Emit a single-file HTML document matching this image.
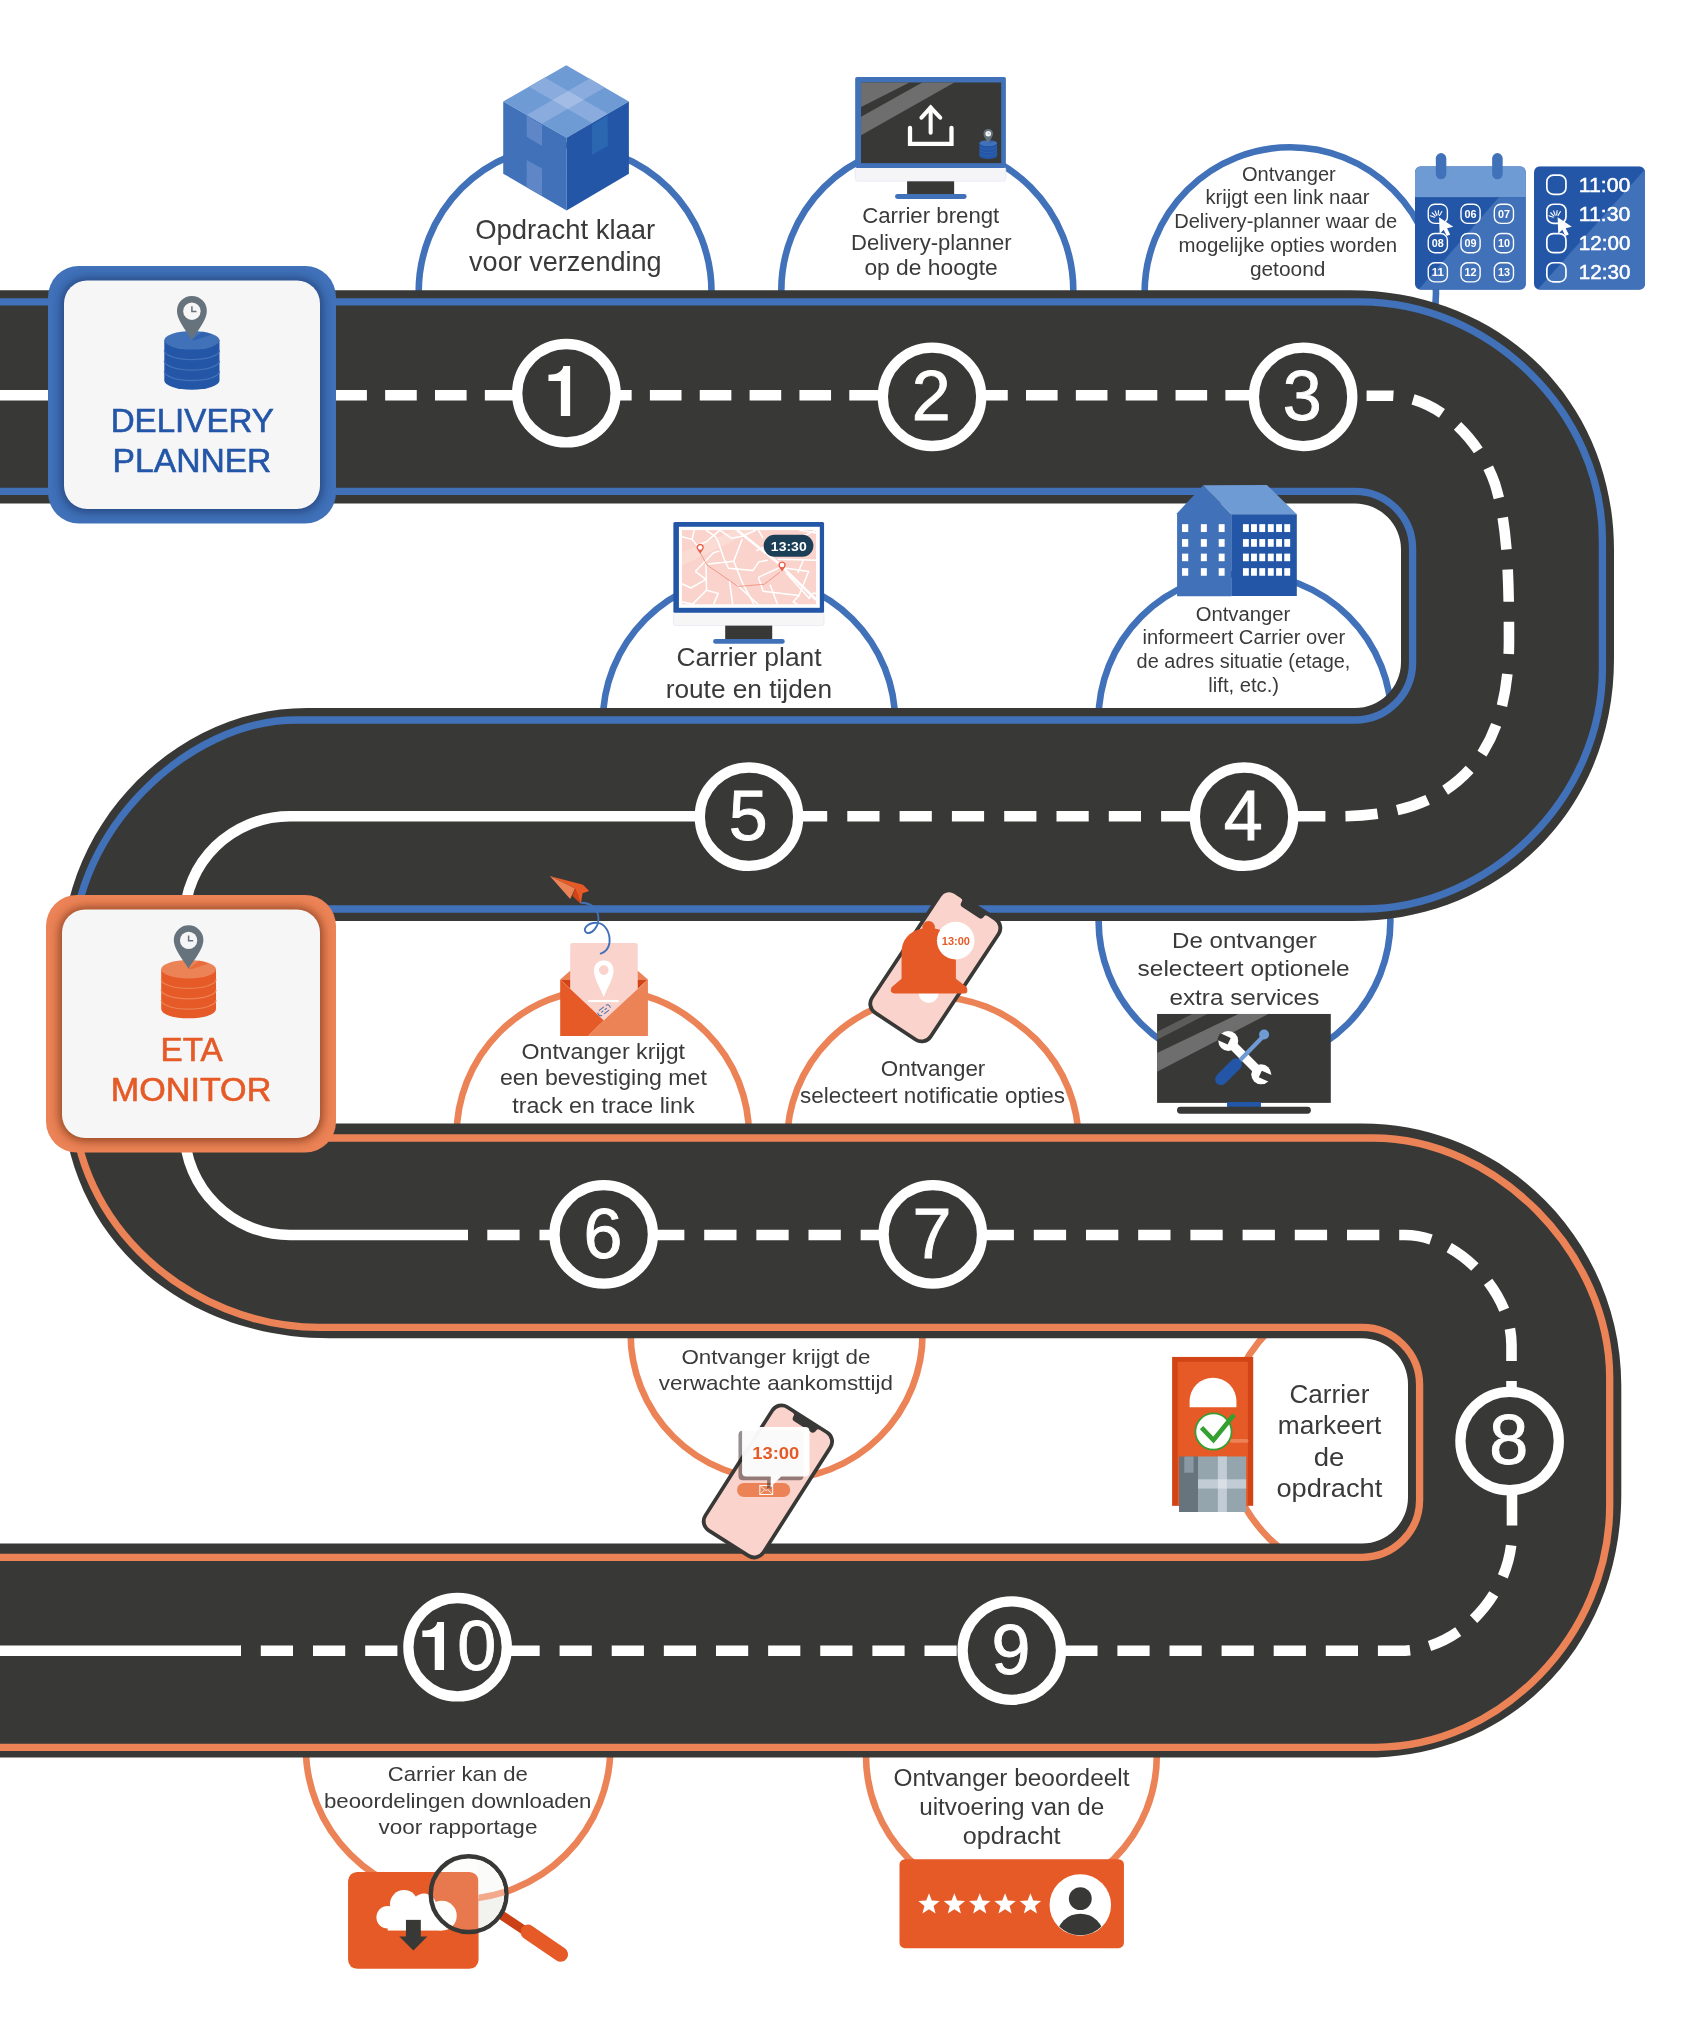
<!DOCTYPE html>
<html><head><meta charset="utf-8"><title>Delivery Planner / ETA Monitor</title>
<style>
html,body{margin:0;padding:0;background:#fff;}
svg{display:block;will-change:transform;font-family:"Liberation Sans",sans-serif;}
</style></head><body>
<svg width="1684" height="2038" viewBox="0 0 1684 2038">
<rect width="1684" height="2038" fill="#fff"/>
<circle cx="1011.4" cy="1755.8" r="145.4" fill="#fff" stroke="#EC8357" stroke-width="6.6"/>
<circle cx="458.1" cy="1747" r="152.3" fill="#fff" stroke="#EC8357" stroke-width="6.6"/>
<circle cx="1372.4" cy="1434.5" r="146.5" fill="#fff" stroke="#EC8357" stroke-width="6.6"/>
<circle cx="776.6" cy="1333.5" r="146" fill="#fff" stroke="#EC8357" stroke-width="6.6"/>
<circle cx="932.9" cy="1142.5" r="145.8" fill="#fff" stroke="#EC8357" stroke-width="6.6"/>
<circle cx="602.8" cy="1135.6" r="146.2" fill="#fff" stroke="#EC8357" stroke-width="6.6"/>
<circle cx="1244.5" cy="920.8" r="145.9" fill="#fff" stroke="#4071B9" stroke-width="6.6"/>
<circle cx="1245" cy="720" r="146.5" fill="#fff" stroke="#4071B9" stroke-width="6.6"/>
<circle cx="749" cy="722.4" r="146.2" fill="#fff" stroke="#4071B9" stroke-width="6.6"/>
<circle cx="1290.3" cy="293" r="145.7" fill="#fff" stroke="#4071B9" stroke-width="6.6"/>
<circle cx="927.3" cy="290.4" r="146" fill="#fff" stroke="#4071B9" stroke-width="6.6"/>
<circle cx="565.1" cy="291.7" r="146.4" fill="#fff" stroke="#4071B9" stroke-width="6.6"/>
<path d="M-20,290.2 H1350.0 C1501.27,290.20 1614.00,401.22 1614.00,550.20 V659.0 C1614.00,809.13 1502.13,921.00 1352.00,921.00 H261 A46,46 0 0 0 215,967 V1077.6 A46,46 0 0 0 261,1123.6 H1362.3 C1504.75,1123.60 1621.30,1241.50 1621.30,1385.60 V1493.6 C1621.30,1644.87 1511.99,1757.60 1365.30,1757.60 H-20 V1543.4 H1362 A46,46 0 0 0 1408,1497.4 V1384.3 A46,46 0 0 0 1362,1338.3 H330.0 C176.44,1338.30 62.00,1231.55 62.00,1088.30 V958.0 C62.00,823.75 175.44,708.00 307.00,708.00 H1355 A46,46 0 0 0 1401,662 V549.5 A46,46 0 0 0 1355,503.5 H-20Z" fill="#383837"/>
<defs><clipPath id="cpB"><rect x="-30" y="0" width="1750" height="1020"/></clipPath><clipPath id="cpO"><rect x="-30" y="1020" width="1750" height="1100"/></clipPath></defs>
<path d="M-20,301.8 H1360.44 C1489.89,301.80 1602.40,412.45 1602.40,539.76 V669.04 C1602.40,797.42 1490.82,909.00 1362.44,909.00 H261.0 A57.6,57.6 0 0 0 203.4,966.6 V1080.4 A57.6,57.6 0 0 0 261.0,1138 H1372.74 C1495.96,1138.00 1609.70,1253.18 1609.70,1377.96 V1505.34 C1609.70,1634.79 1500.91,1747.30 1375.74,1747.30 H-20 V1557.3 H1362.0 A57.6,57.6 0 0 0 1419.6,1499.7 V1385.0 A57.6,57.6 0 0 0 1362.0,1327.4 H319.56 C187.97,1327.40 73.60,1221.40 73.60,1099.44 V947.96 C73.60,833.98 185.08,720.00 296.56,720.00 H1355.0 A57.6,57.6 0 0 0 1412.6,662.4 V548.9 A57.6,57.6 0 0 0 1355.0,491.3 H-20Z" fill="none" stroke="#4071B9" stroke-width="7.3" clip-path="url(#cpB)"/>
<path d="M-20,301.8 H1360.44 C1489.89,301.80 1602.40,412.45 1602.40,539.76 V669.04 C1602.40,797.42 1490.82,909.00 1362.44,909.00 H261.0 A57.6,57.6 0 0 0 203.4,966.6 V1080.4 A57.6,57.6 0 0 0 261.0,1138 H1372.74 C1495.96,1138.00 1609.70,1253.18 1609.70,1377.96 V1505.34 C1609.70,1634.79 1500.91,1747.30 1375.74,1747.30 H-20 V1557.3 H1362.0 A57.6,57.6 0 0 0 1419.6,1499.7 V1385.0 A57.6,57.6 0 0 0 1362.0,1327.4 H319.56 C187.97,1327.40 73.60,1221.40 73.60,1099.44 V947.96 C73.60,833.98 185.08,720.00 296.56,720.00 H1355.0 A57.6,57.6 0 0 0 1412.6,662.4 V548.9 A57.6,57.6 0 0 0 1355.0,491.3 H-20Z" fill="none" stroke="#EC8357" stroke-width="7.3" clip-path="url(#cpO)"/>
<path d="M-5,395.2H60" stroke="#ffffff" stroke-width="10.6" fill="none"/>
<path d="M334,395.2H520" stroke="#ffffff" stroke-width="10.6" fill="none" stroke-dasharray="31.6 18.25" stroke-dashoffset="48.55"/>
<path d="M610,395.2H880" stroke="#ffffff" stroke-width="10.6" fill="none" stroke-dasharray="31.6 18.25" stroke-dashoffset="9.95"/>
<path d="M980,395.2H1250" stroke="#ffffff" stroke-width="10.6" fill="none" stroke-dasharray="31.6 18.25" stroke-dashoffset="3.85"/>
<path d="M1293.2,816.3 H1340 C1400,816.3 1452,800 1483,752 C1503,720 1509,680 1509,640 C1509,560 1506,520 1495,484 C1480,440 1440,398.2 1392,395.7 H1366.6" stroke="#ffffff" stroke-width="10.6" fill="none" stroke-dasharray="32.2 20"/>
<path d="M795,816.3H1195" stroke="#ffffff" stroke-width="10.6" fill="none" stroke-dasharray="32.2 20.099999999999994" stroke-dashoffset="0.00"/>
<path d="M748,816.3 H290 C232,816.3 184.5,862 184.5,920 V1130 C184.5,1188 232,1235.0 290,1235.0 H468" stroke="#ffffff" stroke-width="10.6" fill="none"/>
<path d="M485,1235.0H560" stroke="#ffffff" stroke-width="10.6" fill="none" stroke-dasharray="32.3 19.900000000000006" stroke-dashoffset="49.90"/>
<path d="M650,1235.0H890" stroke="#ffffff" stroke-width="10.6" fill="none" stroke-dasharray="32.3 19.85" stroke-dashoffset="50.10"/>
<path d="M981.6,1235.0 H1405 C1457.2,1235.0 1511.5,1291.3 1511.5,1345 V1390" stroke="#ffffff" stroke-width="10.6" fill="none" stroke-dasharray="32.3 19.9"/>
<path d="M1065.6,1650.8 H1400 C1459.4,1650.8 1512,1593.2 1512,1532 V1490" stroke="#ffffff" stroke-width="10.6" fill="none" stroke-dasharray="32.2 19.9" stroke-dashoffset="0.3"/>
<path d="M505,1650.8H960" stroke="#ffffff" stroke-width="10.6" fill="none" stroke-dasharray="32.2 19.93" stroke-dashoffset="49.66"/>
<path d="M240,1650.8H410" stroke="#ffffff" stroke-width="10.6" fill="none" stroke-dasharray="32.2 20.0" stroke-dashoffset="31.40"/>
<path d="M-5,1650.8H241" stroke="#ffffff" stroke-width="10.6" fill="none"/>
<circle cx="566.4" cy="393.2" r="49.2" fill="#383837" stroke="#ffffff" stroke-width="10.3"/>
<path d="M570.15,366.09999999999997 V416.09999999999997 H560.85 V381.09999999999997 H548.4499999999999 V374.79999999999995 C555.85,374.79999999999995 562.35,372.49999999999994 563.35,366.09999999999997Z" fill="#ffffff"/>
<circle cx="932.05" cy="396.8" r="49.2" fill="#383837" stroke="#ffffff" stroke-width="10.3"/>
<text x="931.25" y="420.2" font-size="70" fill="#ffffff" stroke="#ffffff" stroke-width="0.9" text-anchor="middle">2</text>
<circle cx="1303.1" cy="396.9" r="49.2" fill="#383837" stroke="#ffffff" stroke-width="10.3"/>
<text x="1302.3" y="420.29999999999995" font-size="70" fill="#ffffff" stroke="#ffffff" stroke-width="0.9" text-anchor="middle">3</text>
<circle cx="1244.05" cy="816.7" r="49.2" fill="#383837" stroke="#ffffff" stroke-width="10.3"/>
<text x="1243.25" y="840.1" font-size="70" fill="#ffffff" stroke="#ffffff" stroke-width="0.9" text-anchor="middle">4</text>
<circle cx="749" cy="816.7" r="49.2" fill="#383837" stroke="#ffffff" stroke-width="10.3"/>
<text x="748.2" y="840.1" font-size="70" fill="#ffffff" stroke="#ffffff" stroke-width="0.9" text-anchor="middle">5</text>
<circle cx="603.7" cy="1234.4" r="49.2" fill="#383837" stroke="#ffffff" stroke-width="10.3"/>
<text x="602.9000000000001" y="1257.8000000000002" font-size="70" fill="#ffffff" stroke="#ffffff" stroke-width="0.9" text-anchor="middle">6</text>
<circle cx="932.8" cy="1234.4" r="49.2" fill="#383837" stroke="#ffffff" stroke-width="10.3"/>
<text x="932.0" y="1257.8000000000002" font-size="70" fill="#ffffff" stroke="#ffffff" stroke-width="0.9" text-anchor="middle">7</text>
<circle cx="1509.6" cy="1441" r="49.2" fill="#383837" stroke="#ffffff" stroke-width="10.3"/>
<text x="1508.8" y="1464.4" font-size="70" fill="#ffffff" stroke="#ffffff" stroke-width="0.9" text-anchor="middle">8</text>
<circle cx="1011.8" cy="1650.6" r="49.2" fill="#383837" stroke="#ffffff" stroke-width="10.3"/>
<text x="1011.0" y="1674.0" font-size="70" fill="#ffffff" stroke="#ffffff" stroke-width="0.9" text-anchor="middle">9</text>
<circle cx="457.6" cy="1647.2" r="49.2" fill="#383837" stroke="#ffffff" stroke-width="10.3"/>
<path d="M444.04,1621.9 V1670.0 H434.74 V1636.9 H422.34000000000003 V1630.6000000000001 C429.74,1630.6000000000001 436.24,1628.3000000000002 437.24,1621.9Z" fill="#ffffff"/>
<text x="476.8" y="1670.0" font-size="70" fill="#ffffff" stroke="#ffffff" stroke-width="0.9" text-anchor="middle">0</text>
<defs>
<clipPath id="up1"><rect x="0" y="0" width="1684" height="290.2"/></clipPath>
<clipPath id="up2"><path d="M0,503.5 H1355 A46,46 0 0 1 1401,549.5 V662 A46,46 0 0 1 1355,708 H0Z"/></clipPath>
<clipPath id="dn2"><rect x="0" y="921" width="1684" height="300"/></clipPath>
<clipPath id="up3"><rect x="0" y="900" width="1684" height="223.5999999999999"/></clipPath>
<clipPath id="dn3"><rect x="0" y="1338.3" width="1684" height="205.10000000000014"/></clipPath>
<clipPath id="h3"><path d="M0,1338.3 H1362 A46,46 0 0 1 1408,1384.3 V1497.4 A46,46 0 0 1 1362,1543.4 H0Z"/></clipPath>
<clipPath id="dn4"><rect x="0" y="1757.6" width="1684" height="300"/></clipPath>
</defs>
<text x="475.2" y="238.8" font-size="27.2" fill="#3a3a3a" textLength="180.0" lengthAdjust="spacingAndGlyphs">Opdracht klaar</text>
<text x="469.1" y="270.8" font-size="27.2" fill="#3a3a3a" textLength="192.5" lengthAdjust="spacingAndGlyphs">voor verzending</text>
<text x="862.2" y="222.6" font-size="21.7" fill="#3a3a3a" textLength="137.1" lengthAdjust="spacingAndGlyphs">Carrier brengt</text>
<text x="851.0" y="249.5" font-size="21.7" fill="#3a3a3a" textLength="160.6" lengthAdjust="spacingAndGlyphs">Delivery-planner</text>
<text x="864.4" y="275.4" font-size="21.7" fill="#3a3a3a" textLength="133.3" lengthAdjust="spacingAndGlyphs">op de hoogte</text>
<text x="1241.9" y="180.5" font-size="19.6" fill="#3a3a3a" textLength="93.9" lengthAdjust="spacingAndGlyphs">Ontvanger</text>
<text x="1205.4" y="204.4" font-size="19.6" fill="#3a3a3a" textLength="164.0" lengthAdjust="spacingAndGlyphs">krijgt een link naar</text>
<text x="1174.2" y="228.3" font-size="19.6" fill="#3a3a3a" textLength="223.0" lengthAdjust="spacingAndGlyphs">Delivery-planner waar de</text>
<text x="1178.6" y="252.3" font-size="19.6" fill="#3a3a3a" textLength="218.6" lengthAdjust="spacingAndGlyphs">mogelijke opties worden</text>
<text x="1249.9" y="276.2" font-size="19.6" fill="#3a3a3a" textLength="75.5" lengthAdjust="spacingAndGlyphs">getoond</text>
<text x="676.4" y="666.3" font-size="25.6" fill="#3a3a3a" textLength="145.2" lengthAdjust="spacingAndGlyphs">Carrier plant</text>
<text x="665.7" y="697.7" font-size="25.6" fill="#3a3a3a" textLength="166.3" lengthAdjust="spacingAndGlyphs">route en tijden</text>
<text x="1195.7" y="620.5" font-size="19.6" fill="#3a3a3a" textLength="94.5" lengthAdjust="spacingAndGlyphs">Ontvanger</text>
<text x="1142.6" y="644.3" font-size="19.6" fill="#3a3a3a" textLength="202.6" lengthAdjust="spacingAndGlyphs">informeert Carrier over</text>
<text x="1136.6" y="668.0" font-size="19.6" fill="#3a3a3a" textLength="213.8" lengthAdjust="spacingAndGlyphs">de adres situatie (etage,</text>
<text x="1208.3" y="692.2" font-size="19.6" fill="#3a3a3a" textLength="70.8" lengthAdjust="spacingAndGlyphs">lift, etc.)</text>
<text x="1172.0" y="947.5" font-size="22.6" fill="#3a3a3a" textLength="144.8" lengthAdjust="spacingAndGlyphs">De ontvanger</text>
<text x="1137.6" y="976.4" font-size="22.6" fill="#3a3a3a" textLength="212.1" lengthAdjust="spacingAndGlyphs">selecteert optionele</text>
<text x="1169.4" y="1005.4" font-size="22.6" fill="#3a3a3a" textLength="149.9" lengthAdjust="spacingAndGlyphs">extra services</text>
<text x="521.5" y="1058.5" font-size="21.6" fill="#3a3a3a" textLength="163.5" lengthAdjust="spacingAndGlyphs">Ontvanger krijgt</text>
<text x="499.9" y="1085.3" font-size="21.6" fill="#3a3a3a" textLength="207.0" lengthAdjust="spacingAndGlyphs">een bevestiging met</text>
<text x="512.2" y="1112.6" font-size="21.6" fill="#3a3a3a" textLength="182.4" lengthAdjust="spacingAndGlyphs">track en trace link</text>
<text x="880.8" y="1076.3" font-size="21.4" fill="#3a3a3a" textLength="104.5" lengthAdjust="spacingAndGlyphs">Ontvanger</text>
<text x="799.9" y="1102.5" font-size="21.4" fill="#3a3a3a" textLength="265.0" lengthAdjust="spacingAndGlyphs">selecteert notificatie opties</text>
<text x="681.4" y="1363.5" font-size="20.9" fill="#3a3a3a" textLength="189.0" lengthAdjust="spacingAndGlyphs">Ontvanger krijgt de</text>
<text x="658.8" y="1390.2" font-size="20.9" fill="#3a3a3a" textLength="234.2" lengthAdjust="spacingAndGlyphs">verwachte aankomsttijd</text>
<text x="1289.4" y="1402.6" font-size="25.6" fill="#3a3a3a" textLength="80.0" lengthAdjust="spacingAndGlyphs">Carrier</text>
<text x="1277.8" y="1434.4" font-size="25.6" fill="#3a3a3a" textLength="103.6" lengthAdjust="spacingAndGlyphs">markeert</text>
<text x="1313.8" y="1465.6" font-size="25.6" fill="#3a3a3a" textLength="30.6" lengthAdjust="spacingAndGlyphs">de</text>
<text x="1276.4" y="1496.8" font-size="25.6" fill="#3a3a3a" textLength="105.9" lengthAdjust="spacingAndGlyphs">opdracht</text>
<text x="387.8" y="1781.2" font-size="21.0" fill="#3a3a3a" textLength="140.1" lengthAdjust="spacingAndGlyphs">Carrier kan de</text>
<text x="323.9" y="1807.5" font-size="21.0" fill="#3a3a3a" textLength="267.6" lengthAdjust="spacingAndGlyphs">beoordelingen downloaden</text>
<text x="378.5" y="1834.2" font-size="21.0" fill="#3a3a3a" textLength="158.9" lengthAdjust="spacingAndGlyphs">voor rapportage</text>
<text x="893.5" y="1786.4" font-size="23.3" fill="#3a3a3a" textLength="236.0" lengthAdjust="spacingAndGlyphs">Ontvanger beoordeelt</text>
<text x="919.2" y="1815.1" font-size="23.3" fill="#3a3a3a" textLength="185.1" lengthAdjust="spacingAndGlyphs">uitvoering van de</text>
<text x="962.8" y="1844.2" font-size="23.3" fill="#3a3a3a" textLength="97.8" lengthAdjust="spacingAndGlyphs">opdracht</text>
<polygon points="566.31,65.14 628.9,101.48 566.61,137.83 503.22,101.48" fill="#6F9BD4" />
<polygon points="503.22,101.48 566.61,137.83 566.61,210.51 503.22,173.66" fill="#4071B9" />
<polygon points="566.61,137.83 628.9,101.48 628.9,173.66 566.61,210.51" fill="#2356A7" />
<polygon points="526.67,114.93 542.08,123.76 604.68,87.42 589.47,78.59" fill="#8AABDD" />
<polygon points="592.03,123.0 607.72,113.84 544.86,77.5 528.96,86.66" fill="#8AABDD" />
<polygon points="552.42,100.1 567.82,108.93 583.72,99.78 568.32,90.94" fill="#A2BCE5" />
<polygon points="526.64,115.62 542.08,124.7 542.08,145.9 526.64,136.82" fill="#5F87C8" />
<polygon points="526.64,160.03 542.08,168.61 542.08,195.87 526.64,187.29" fill="#5F87C8" />
<polygon points="592.05,124.7 607.7,115.62 607.7,145.9 592.05,154.99" fill="#2B66B1" />
<rect x="855.18" y="166.88" width="150.71" height="14.43" rx="2.67" fill="#F5F5F8" stroke="#D5DBF0" stroke-width="0.4"/>
<rect x="855.18" y="76.89" width="150.71" height="91.06" rx="1.92" fill="#4071B9" />
<rect x="861.06" y="82.45" width="140.12" height="80.7" rx="0.0" fill="#383837" />
<polygon points="861.06,82.45 909.47,82.45 861.06,107.03" fill="#6E6E6E" />
<polygon points="922.3,82.45 954.37,82.45 861.06,135.35 861.06,116.65" fill="#6E6E6E" />
<rect x="907.12" y="181.31" width="47.03" height="13.15" rx="0.0" fill="#383837" />
<rect x="895.04" y="193.92" width="71.61" height="5.02" rx="2.46" fill="#4071B9" />
<path d="M910.01,127.87 L910.01,143.9 L951.48,143.9 L951.48,127.87" fill="none" stroke="#fff" stroke-width="4.28" stroke-linecap="round" stroke-linejoin="miter"/>
<path d="M930.64,107.56 L930.64,132.68" fill="none" stroke="#fff" stroke-width="4.06" stroke-linecap="round"/>
<path d="M921.45,117.72 L930.64,107.56 L940.26,117.72" fill="none" stroke="#fff" stroke-width="4.06" stroke-linecap="round" stroke-linejoin="miter"/>
<path d="M979.42,143.12 V155.95 A8.83,2.98 0 0 0 997.08,155.95 V143.12Z" fill="#2356A7"/>
<path d="M979.42,146.32 A8.83,2.98 0 0 0 997.08,146.32" fill="none" stroke="#4071B9" stroke-width="0.42"/>
<path d="M979.42,149.68 A8.83,2.98 0 0 0 997.08,149.68" fill="none" stroke="#4071B9" stroke-width="0.42"/>
<path d="M979.42,153.0 A8.83,2.98 0 0 0 997.08,153.0" fill="none" stroke="#4071B9" stroke-width="0.42"/>
<ellipse cx="988.25" cy="143.12" rx="8.83" ry="2.98" fill="#4071B9"/>
<path d="M988.25,142.92 L991.77,140.3 L994.65,141.26 L988.89,143.18Z" fill="#2356A7" opacity="0.55"/>
<path d="M988.25,142.99 C987.29,141.1 983.48,136.94 983.48,133.71 A4.77,4.77 0 0 1 993.02,133.71 C993.02,136.94 989.21,141.1 988.25,142.99Z" fill="#66737D"/>
<circle cx="988.25" cy="133.8" r="2.78" fill="#F6F6F7"/>
<path d="M988.25,132.24 V133.93 H989.72" fill="none" stroke="#66737D" stroke-width="0.48"/>
<defs><clipPath id="calc"><rect x="1414.98" y="166.25" width="110.85" height="123.51" rx="5.87"/></clipPath>
<clipPath id="timc"><rect x="1534.01" y="166.25" width="111.01" height="123.51" rx="5.87"/></clipPath></defs>
<g clip-path="url(#calc)">
<rect x="1414.98" y="166.25" width="110.85" height="123.51" rx="0.0" fill="#2356A7" />
<polygon points="1498.81,197.13 1525.83,197.13 1525.83,289.76 1418.53,289.76" fill="#4071B9" />
<rect x="1414.98" y="166.25" width="110.85" height="30.88" rx="0.0" fill="#6F9BD4" />
</g>
<rect x="1435.82" y="153.12" width="10.5" height="26.25" rx="5.25" fill="#4071B9" />
<rect x="1492.17" y="153.12" width="10.5" height="26.25" rx="5.25" fill="#4071B9" />
<rect x="1428.25" y="204.23" width="19.14" height="19.14" rx="6.48" fill="none" stroke="#fff" stroke-width="1.39"/>
<rect x="1460.99" y="204.23" width="19.14" height="19.14" rx="6.48" fill="none" stroke="#fff" stroke-width="1.39"/>
<text x="1470.56" y="217.81" font-size="11.12" font-weight="bold" fill="#fff" text-anchor="middle" textLength="12.04" lengthAdjust="spacingAndGlyphs">06</text>
<rect x="1494.33" y="204.23" width="19.14" height="19.14" rx="6.48" fill="none" stroke="#fff" stroke-width="1.39"/>
<text x="1503.91" y="217.81" font-size="11.12" font-weight="bold" fill="#fff" text-anchor="middle" textLength="12.04" lengthAdjust="spacingAndGlyphs">07</text>
<rect x="1428.25" y="233.56" width="19.14" height="19.14" rx="6.48" fill="none" stroke="#fff" stroke-width="1.39"/>
<text x="1437.83" y="247.15" font-size="11.12" font-weight="bold" fill="#fff" text-anchor="middle" textLength="12.04" lengthAdjust="spacingAndGlyphs">08</text>
<rect x="1460.99" y="233.56" width="19.14" height="19.14" rx="6.48" fill="none" stroke="#fff" stroke-width="1.39"/>
<text x="1470.56" y="247.15" font-size="11.12" font-weight="bold" fill="#fff" text-anchor="middle" textLength="12.04" lengthAdjust="spacingAndGlyphs">09</text>
<rect x="1494.33" y="233.56" width="19.14" height="19.14" rx="6.48" fill="none" stroke="#fff" stroke-width="1.39"/>
<text x="1503.91" y="247.15" font-size="11.12" font-weight="bold" fill="#fff" text-anchor="middle" textLength="12.04" lengthAdjust="spacingAndGlyphs">10</text>
<rect x="1428.25" y="262.74" width="19.14" height="19.14" rx="6.48" fill="none" stroke="#fff" stroke-width="1.39"/>
<text x="1437.83" y="276.33" font-size="11.12" font-weight="bold" fill="#fff" text-anchor="middle" textLength="12.04" lengthAdjust="spacingAndGlyphs">11</text>
<rect x="1460.99" y="262.74" width="19.14" height="19.14" rx="6.48" fill="none" stroke="#fff" stroke-width="1.39"/>
<text x="1470.56" y="276.33" font-size="11.12" font-weight="bold" fill="#fff" text-anchor="middle" textLength="12.04" lengthAdjust="spacingAndGlyphs">12</text>
<rect x="1494.33" y="262.74" width="19.14" height="19.14" rx="6.48" fill="none" stroke="#fff" stroke-width="1.39"/>
<text x="1503.91" y="276.33" font-size="11.12" font-weight="bold" fill="#fff" text-anchor="middle" textLength="12.04" lengthAdjust="spacingAndGlyphs">13</text>
<path d="M1434.63,217.27 L1430.28,215.69" fill="none" stroke="#fff" stroke-width="1.08" stroke-linecap="round"/>
<path d="M1435.42,216.03 L1432.15,212.75" fill="none" stroke="#fff" stroke-width="1.08" stroke-linecap="round"/>
<path d="M1436.66,215.24 L1435.08,210.89" fill="none" stroke="#fff" stroke-width="1.08" stroke-linecap="round"/>
<path d="M1438.12,215.05 L1438.53,210.43" fill="none" stroke="#fff" stroke-width="1.08" stroke-linecap="round"/>
<path d="M1439.52,215.49 L1441.84,211.48" fill="none" stroke="#fff" stroke-width="1.08" stroke-linecap="round"/>
<polygon points="1439.06,217.2 1453.27,226.77 1447.09,228.31 1450.18,234.49 1446.78,236.03 1443.69,229.86 1439.68,233.87" fill="#fff" />
<g clip-path="url(#timc)">
<rect x="1534.01" y="166.25" width="111.01" height="123.51" rx="0.0" fill="#2356A7" />
<polygon points="1645.02,169.33 1645.02,289.76 1537.41,289.76" fill="#4071B9" />
</g>
<rect x="1546.83" y="175.2" width="19.14" height="19.14" rx="6.48" fill="none" stroke="#fff" stroke-width="1.7"/>
<text x="1578.79" y="191.88" font-size="19.45" fill="#fff" stroke="#fff" stroke-width="0.5" textLength="51.57" lengthAdjust="spacingAndGlyphs">11:00</text>
<rect x="1546.83" y="204.23" width="19.14" height="19.14" rx="6.48" fill="none" stroke="#fff" stroke-width="1.7"/>
<text x="1578.79" y="220.9" font-size="19.45" fill="#fff" stroke="#fff" stroke-width="0.5" textLength="51.57" lengthAdjust="spacingAndGlyphs">11:30</text>
<rect x="1546.83" y="233.56" width="19.14" height="19.14" rx="6.48" fill="none" stroke="#fff" stroke-width="1.7"/>
<text x="1578.79" y="250.24" font-size="19.45" fill="#fff" stroke="#fff" stroke-width="0.5" textLength="51.57" lengthAdjust="spacingAndGlyphs">12:00</text>
<rect x="1546.83" y="262.74" width="19.14" height="19.14" rx="6.48" fill="none" stroke="#fff" stroke-width="1.7"/>
<text x="1578.79" y="279.42" font-size="19.45" fill="#fff" stroke="#fff" stroke-width="0.5" textLength="51.57" lengthAdjust="spacingAndGlyphs">12:30</text>
<path d="M1553.21,217.27 L1548.86,215.69" fill="none" stroke="#fff" stroke-width="1.08" stroke-linecap="round"/>
<path d="M1554.0,216.03 L1550.72,212.75" fill="none" stroke="#fff" stroke-width="1.08" stroke-linecap="round"/>
<path d="M1555.24,215.24 L1553.65,210.89" fill="none" stroke="#fff" stroke-width="1.08" stroke-linecap="round"/>
<path d="M1556.7,215.05 L1557.1,210.43" fill="none" stroke="#fff" stroke-width="1.08" stroke-linecap="round"/>
<path d="M1558.1,215.49 L1560.41,211.48" fill="none" stroke="#fff" stroke-width="1.08" stroke-linecap="round"/>
<polygon points="1557.63,217.2 1571.84,226.77 1565.66,228.31 1568.75,234.49 1565.35,236.03 1562.27,229.86 1558.25,233.87" fill="#fff" />
<rect x="673.36" y="611.54" width="150.71" height="14.11" rx="2.67" fill="#F6F6F7" stroke="#D5DBF0" stroke-width="0.4"/>
<rect x="673.36" y="522.08" width="150.71" height="90.74" rx="1.5" fill="#2356A7" />
<rect x="678.92" y="526.78" width="140.87" height="81.02" rx="0.0" fill="#fff" />
<defs><clipPath id="mapc"><rect x="681.91" y="530.09" width="134.35" height="74.5"/></clipPath></defs>
<g clip-path="url(#mapc)">
<rect x="681.91" y="530.09" width="134.35" height="74.5" rx="0.0" fill="#FAD4CC" />
<polygon points="681.91,552.75 734.82,530.09 756.19,530.09 681.91,565.58" fill="#FBDCD5" />
<path d="M681.91,536.72 L692.06,539.39 L694.2,530.09" fill="none" stroke="#fff" stroke-width="1.5" stroke-linejoin="round"/>
<path d="M692.06,539.39 L696.87,545.27 L705.96,542.06 L719.85,530.09" fill="none" stroke="#fff" stroke-width="1.5" stroke-linejoin="round"/>
<path d="M705.96,530.09 L715.58,536.72 L718.25,542.06 L724.13,559.17 L728.41,568.25 L752.99,570.39 L758.87,561.84 L767.95,560.24" fill="none" stroke="#fff" stroke-width="1.5" stroke-linejoin="round"/>
<path d="M719.85,530.09 L731.61,538.32 L742.3,536.19 L756.19,530.09" fill="none" stroke="#fff" stroke-width="1.5" stroke-linejoin="round"/>
<path d="M742.3,538.86 L733.75,561.3 L742.3,582.68 L754.06,604.59" fill="none" stroke="#fff" stroke-width="1.5" stroke-linejoin="round"/>
<path d="M708.1,563.98 L733.75,561.3" fill="none" stroke="#fff" stroke-width="1.5" stroke-linejoin="round"/>
<path d="M695.27,571.46 L713.44,552.75 L719.32,551.15" fill="none" stroke="#fff" stroke-width="1.5" stroke-linejoin="round"/>
<path d="M695.27,571.46 L705.96,579.47 L691.0,588.02 L681.91,583.75" fill="none" stroke="#fff" stroke-width="1.5" stroke-linejoin="round"/>
<path d="M705.96,563.44 L706.49,590.16 L718.25,593.37 L713.44,604.59" fill="none" stroke="#fff" stroke-width="1.5" stroke-linejoin="round"/>
<path d="M706.49,590.16 L692.06,604.59" fill="none" stroke="#fff" stroke-width="1.5" stroke-linejoin="round"/>
<path d="M729.47,580.54 L732.68,604.59" fill="none" stroke="#fff" stroke-width="1.5" stroke-linejoin="round"/>
<path d="M736.96,584.82 L758.33,604.59" fill="none" stroke="#fff" stroke-width="1.5" stroke-linejoin="round"/>
<path d="M758.33,577.34 L781.85,566.65" fill="none" stroke="#fff" stroke-width="1.5" stroke-linejoin="round"/>
<path d="M758.33,577.34 L763.14,591.23 L798.95,595.51 L808.57,571.46 L782.92,567.72" fill="none" stroke="#fff" stroke-width="1.5" stroke-linejoin="round"/>
<path d="M756.19,550.62 L767.95,545.81" fill="none" stroke="#fff" stroke-width="1.5" stroke-linejoin="round"/>
<path d="M777.57,559.17 L816.26,560.24" fill="none" stroke="#fff" stroke-width="1.5" stroke-linejoin="round"/>
<path d="M797.88,573.06 L803.22,560.24" fill="none" stroke="#fff" stroke-width="1.5" stroke-linejoin="round"/>
<path d="M798.95,595.51 L793.07,601.92 L797.88,604.59" fill="none" stroke="#fff" stroke-width="1.5" stroke-linejoin="round"/>
<path d="M808.57,598.71 L812.84,593.37 L816.26,593.37" fill="none" stroke="#fff" stroke-width="1.5" stroke-linejoin="round"/>
<path d="M770.09,584.82 L777.57,604.59" fill="none" stroke="#fff" stroke-width="1.5" stroke-linejoin="round"/>
<path d="M758.33,530.09 L763.14,538.32" fill="none" stroke="#fff" stroke-width="1.5" stroke-linejoin="round"/>
<path d="M798.95,530.09 L816.26,532.98" fill="none" stroke="#fff" stroke-width="1.5" stroke-linejoin="round"/>
<path d="M681.91,601.92 L695.27,604.59" fill="none" stroke="#fff" stroke-width="1.5" stroke-linejoin="round"/>
<path d="M786.12,573.06 L809.64,598.71" fill="none" stroke="#fff" stroke-width="1.5" stroke-linejoin="round"/>
<path d="M736.96,530.09 L777.57,562.37 L816.26,599.78" fill="none" stroke="#fff" stroke-width="2.57" />
<path d="M816.26,530.09 L802.15,536.72 L793.6,535.12" fill="none" stroke="#fff" stroke-width="1.5" />
</g>
<path d="M700.19,552.75 L707.03,565.04 L738.02,586.42 L764.21,584.28 L780.24,571.99" fill="none" stroke="#E8604A" stroke-width="0.53" stroke-linejoin="round"/>
<path d="M700.19,553.82 L696.98,549.12 A3.63,3.63 0 1 1 703.39,549.12Z" fill="#E8604A"/>
<circle cx="700.19" cy="547.41" r="2.24" fill="#fff" />
<path d="M782.06,571.46 L778.85,566.76 A3.63,3.63 0 1 1 785.27,566.76Z" fill="#E8604A"/>
<circle cx="782.06" cy="565.04" r="2.24" fill="#fff" />
<rect x="763.68" y="534.8" width="49.7" height="21.91" rx="10.9" fill="#1C3F58" />
<text x="788.79" y="550.83" font-size="13.36" font-weight="bold" fill="#fff" text-anchor="middle" textLength="35.81" lengthAdjust="spacingAndGlyphs">13:30</text>
<rect x="725.2" y="625.65" width="47.03" height="13.68" rx="0.0" fill="#383837" />
<rect x="713.12" y="639.12" width="71.61" height="4.7" rx="2.35" fill="#4071B9" />
<polygon points="1177.1,513.23 1203.23,485.2 1231.26,514.18 1231.26,596.37 1177.1,596.37" fill="#4071B9" />
<polygon points="1203.23,485.2 1266.89,485.01 1296.82,514.18 1231.26,514.18" fill="#6F9BD4" />
<polygon points="1231.26,514.18 1296.82,514.18 1296.82,595.89 1231.26,595.89" fill="#2356A7" />
<rect x="1182.04" y="524.16" width="6.18" height="7.89" rx="0.0" fill="#fff" />
<rect x="1200.86" y="524.16" width="5.99" height="7.89" rx="0.0" fill="#fff" />
<rect x="1218.72" y="524.16" width="5.89" height="7.89" rx="0.0" fill="#fff" />
<rect x="1242.95" y="524.16" width="5.89" height="7.89" rx="0.0" fill="#fff" />
<rect x="1251.02" y="524.16" width="5.89" height="7.89" rx="0.0" fill="#fff" />
<rect x="1259.29" y="524.16" width="5.89" height="7.89" rx="0.0" fill="#fff" />
<rect x="1267.84" y="524.16" width="5.89" height="7.89" rx="0.0" fill="#fff" />
<rect x="1276.1" y="524.16" width="5.89" height="7.89" rx="0.0" fill="#fff" />
<rect x="1284.28" y="524.16" width="5.89" height="7.89" rx="0.0" fill="#fff" />
<rect x="1182.04" y="539.07" width="6.18" height="7.7" rx="0.0" fill="#fff" />
<rect x="1200.86" y="539.07" width="5.99" height="7.7" rx="0.0" fill="#fff" />
<rect x="1218.72" y="539.07" width="5.89" height="7.7" rx="0.0" fill="#fff" />
<rect x="1242.95" y="539.07" width="5.89" height="7.7" rx="0.0" fill="#fff" />
<rect x="1251.02" y="539.07" width="5.89" height="7.7" rx="0.0" fill="#fff" />
<rect x="1259.29" y="539.07" width="5.89" height="7.7" rx="0.0" fill="#fff" />
<rect x="1267.84" y="539.07" width="5.89" height="7.7" rx="0.0" fill="#fff" />
<rect x="1276.1" y="539.07" width="5.89" height="7.7" rx="0.0" fill="#fff" />
<rect x="1284.28" y="539.07" width="5.89" height="7.7" rx="0.0" fill="#fff" />
<rect x="1182.04" y="553.61" width="6.18" height="7.6" rx="0.0" fill="#fff" />
<rect x="1200.86" y="553.61" width="5.99" height="7.6" rx="0.0" fill="#fff" />
<rect x="1218.72" y="553.61" width="5.89" height="7.6" rx="0.0" fill="#fff" />
<rect x="1242.95" y="553.61" width="5.89" height="7.6" rx="0.0" fill="#fff" />
<rect x="1251.02" y="553.61" width="5.89" height="7.6" rx="0.0" fill="#fff" />
<rect x="1259.29" y="553.61" width="5.89" height="7.6" rx="0.0" fill="#fff" />
<rect x="1267.84" y="553.61" width="5.89" height="7.6" rx="0.0" fill="#fff" />
<rect x="1276.1" y="553.61" width="5.89" height="7.6" rx="0.0" fill="#fff" />
<rect x="1284.28" y="553.61" width="5.89" height="7.6" rx="0.0" fill="#fff" />
<rect x="1182.04" y="568.15" width="6.18" height="7.6" rx="0.0" fill="#fff" />
<rect x="1200.86" y="568.15" width="5.99" height="7.6" rx="0.0" fill="#fff" />
<rect x="1218.72" y="568.15" width="5.89" height="7.6" rx="0.0" fill="#fff" />
<rect x="1242.95" y="568.15" width="5.89" height="7.6" rx="0.0" fill="#fff" />
<rect x="1251.02" y="568.15" width="5.89" height="7.6" rx="0.0" fill="#fff" />
<rect x="1259.29" y="568.15" width="5.89" height="7.6" rx="0.0" fill="#fff" />
<rect x="1267.84" y="568.15" width="5.89" height="7.6" rx="0.0" fill="#fff" />
<rect x="1276.1" y="568.15" width="5.89" height="7.6" rx="0.0" fill="#fff" />
<rect x="1284.28" y="568.15" width="5.89" height="7.6" rx="0.0" fill="#fff" />
<rect x="1157.08" y="1013.97" width="173.71" height="88.91" rx="0.0" fill="#383837" />
<polygon points="1192.38,1013.97 1207.34,1013.97 1157.08,1039.66 1157.08,1031.8" fill="#5C5C5B" />
<polygon points="1238.52,1013.97 1268.44,1013.97 1157.08,1071.7 1157.08,1053.0" fill="#6E6E6E" />
<rect x="1227.04" y="1102.01" width="33.92" height="5.49" rx="0.0" fill="#2356A7" />
<rect x="1177.04" y="1106.87" width="133.81" height="6.86" rx="3.37" fill="#383837" />
<path d="M1231.66,1044.27 L1257.85,1070.46" fill="none" stroke="#fff" stroke-width="8.98" />
<circle cx="1228.29" cy="1040.9" r="9.98" fill="#fff" />
<defs><clipPath id="wh708"><circle cx="1228.29" cy="1040.9" r="10.85"/></clipPath></defs>
<polygon points="1227.66,1044.6 1230.72,1038.05 1217.39,1031.82 1214.33,1038.38" fill="#383837" clip-path="url(#wh708)"/>
<circle cx="1261.21" cy="1074.32" r="9.98" fill="#fff" />
<defs><clipPath id="wh972"><circle cx="1261.21" cy="1074.32" r="10.85"/></clipPath></defs>
<polygon points="1261.84,1070.63 1258.78,1077.18 1272.11,1083.4 1275.17,1076.85" fill="#383837" clip-path="url(#wh972)"/>
<path d="M1239.76,1060.48 L1262.83,1036.79" fill="none" stroke="#6F9BD4" stroke-width="4.24" />
<circle cx="1264.08" cy="1034.54" r="4.99" fill="#6F9BD4" />
<path d="M1221.06,1079.19 L1236.02,1064.22" fill="none" stroke="#2356A7" stroke-width="11.85" stroke-linecap="round"/>
<polygon points="560.21,979.38 570.19,970.81 637.75,970.81 647.91,979.38" fill="#EC8357" />
<polygon points="560.21,979.38 647.91,979.38 637.75,988.65 570.19,988.65" fill="#D24416" />
<path d="M570.19,1023.98 V945.37 Q570.19,942.9 572.66,942.9 H635.28 Q637.75,942.9 637.75,945.37 V1023.98Z" fill="#FAD4CC"/>
<path d="M603.75,997.04 C600.66,988.65 593.86,978.94 593.86,970.11 A9.89,9.89 0 0 1 613.64,970.11 C613.64,978.94 606.84,988.65 603.75,997.04Z" fill="#fff"/>
<circle cx="603.75" cy="970.11" r="4.86" fill="#FAD4CC" />
<path d="M588.29,1001.02 L618.77,1001.02" fill="none" stroke="#fff" stroke-width="2.12" />
<g transform="rotate(-38 604.02 1010.29)"><rect x="596.95" y="1007.47" width="14.13" height="5.65" rx="2.83" fill="none" stroke="#4071B9" stroke-width="0.97" stroke-dasharray="6.18 2.47"/><path d="M600.48,1010.29H607.55" stroke="#4071B9" stroke-width="0.97" stroke-dasharray="2.65 1.77"/></g>
<polygon points="560.21,979.38 603.75,1020.45 588.29,1035.91 560.21,1035.91" fill="#E55A26" />
<polygon points="647.91,979.38 603.75,1020.45 588.29,1035.91 647.91,1035.91" fill="#EC8357" />
<path d="M581.23,902.8 C590.06,902.98 598.01,907.4 598.45,917.99 C598.72,926.83 591.83,934.78 586.53,932.57 C582.11,930.36 586.53,922.41 597.13,922.85 C605.96,923.29 610.37,933.89 609.49,942.72 C608.61,948.91 605.08,952.44 600.66,953.59" fill="none" stroke="#4071B9" stroke-width="1.94" stroke-linecap="round"/>
<polygon points="549.87,876.04 582.99,884.87 589.18,891.06 582.55,893.26 580.79,903.86 575.05,888.41" fill="#E55A26" />
<polygon points="549.87,876.04 575.05,888.41 570.19,899.0" fill="#EC8357" />
<polygon points="575.05,888.41 572.4,895.91 580.79,903.86 578.14,894.15" fill="#D24416" />
<g transform="rotate(33.5 935.3 965.9)">
<rect x="898.3" y="891.75" width="74" height="148.3" rx="12.5" fill="#383837"/>
<rect x="902.0" y="895.45" width="66.6" height="140.9" rx="9.2" fill="#FAD4CC"/>
<path d="M919.8,894.75 H950.8 V895.45 Q948.8,895.45 948.8,897.25 Q948.8,901.95 945.8,901.95 H924.8 Q921.8,901.95 921.8,897.25 Q921.8,895.45 919.8,895.45Z" fill="#383837"/>
</g>
<circle cx="928.63" cy="993.06" r="9.98" fill="#fff" />
<path d="M901.56,978.81 V952.21 C901.56,940.81 908.21,931.31 922.46,928.46 A6.27,6.27 0 1 1 934.81,928.46 C949.06,931.31 955.9,940.81 955.9,952.21 V978.81 L966.64,986.89 Q969.01,993.54 964.26,993.54 H894.43 Q889.2,993.06 891.58,987.36Z" fill="#E55A26"/>
<circle cx="955.71" cy="940.62" r="18.81" fill="#fff" />
<text x="955.9" y="944.8" font-size="10.64" font-weight="bold" fill="#E55A26" text-anchor="middle" textLength="28.12" lengthAdjust="spacingAndGlyphs">13:00</text>
<g transform="rotate(32.5 767.9 1481.4)">
<rect x="731.65" y="1406.4" width="72.5" height="150" rx="12.5" fill="#383837"/>
<rect x="735.35" y="1410.1000000000001" width="65.1" height="142.6" rx="9.2" fill="#FAD4CC"/>
<path d="M752.4,1409.4 H783.4 V1410.1000000000001 Q781.4,1410.1000000000001 781.4,1411.9 Q781.4,1416.6000000000001 778.4,1416.6000000000001 H757.4 Q754.4,1416.6000000000001 754.4,1411.9 Q754.4,1410.1000000000001 752.4,1410.1000000000001Z" fill="#383837"/>
</g>
<rect x="737.03" y="1483.11" width="53.21" height="13.78" rx="6.84" fill="#EC8357" />
<rect x="759.83" y="1485.49" width="12.83" height="9.03" rx="0.0" fill="none" stroke="#fff" stroke-width="0.95"/>
<path d="M759.83,1485.49 L766.2,1490.71 L772.66,1485.49" fill="none" stroke="#fff" stroke-width="0.76" />
<path d="M759.83,1494.51 L764.58,1489.76" fill="none" stroke="#fff" stroke-width="0.76" />
<path d="M772.66,1494.51 L767.91,1489.76" fill="none" stroke="#fff" stroke-width="0.76" />
<path d="M742.73,1430.86 H803.54 V1475.99 Q803.54,1480.26 799.26,1480.26 H770.76 V1488.81 L767.15,1488.81 V1480.26 H742.73 Q738.46,1480.26 738.46,1475.99 V1435.13 Q738.46,1430.86 742.73,1430.86Z" fill="#2b2020" opacity="0.5"/>
<path d="M746.34,1427.05 H805.25 Q809.52,1427.05 809.52,1431.33 V1472.19 Q809.52,1476.46 805.25,1476.46 H781.21 L770.76,1486.91 V1476.46 H746.34 Q742.07,1476.46 742.07,1472.19 V1431.33 Q742.07,1427.05 746.34,1427.05Z" fill="#fff" opacity="0.96"/>
<text x="775.8" y="1458.6" font-size="16.91" font-weight="bold" fill="#E55A26" text-anchor="middle" textLength="47.03" lengthAdjust="spacingAndGlyphs">13:00</text>
<rect x="1172.1" y="1356.93" width="81.11" height="148.88" rx="0.0" fill="#D24416" />
<rect x="1177.67" y="1361.79" width="70.24" height="144.02" rx="0.0" fill="#E55A26" />
<path d="M1189.6,1407.29 V1401.11 A23.41,23.41 0 0 1 1236.43,1401.11 V1407.29Z" fill="#fff"/>
<path d="M1231.57,1440.86 L1246.59,1440.86" fill="none" stroke="#EC8357" stroke-width="3.71" stroke-linecap="round"/>
<circle cx="1213.45" cy="1431.59" r="18.11" fill="#fff" stroke="#34A030" stroke-width="1.77"/>
<path d="M1201.53,1427.61 L1213.45,1439.98 L1234.04,1414.8" fill="none" stroke="#34A030" stroke-width="4.59" stroke-linejoin="miter"/>
<rect x="1179.0" y="1456.5" width="19.0" height="55.49" rx="0.0" fill="#67747D" />
<rect x="1184.3" y="1456.5" width="9.28" height="16.17" rx="0.0" fill="#8A99A4" />
<rect x="1197.99" y="1456.5" width="48.15" height="55.49" rx="0.0" fill="#95A5AE" />
<rect x="1217.87" y="1456.5" width="9.01" height="55.49" rx="0.0" fill="#C2CCD4" />
<rect x="1197.99" y="1479.3" width="48.15" height="9.28" rx="0.0" fill="#C2CCD4" />
<rect x="1217.87" y="1479.3" width="9.01" height="9.28" rx="0.0" fill="#D9DFE5" />
<rect x="348.06" y="1871.92" width="130.49" height="96.94" rx="9.2" fill="#E55A26" />
<circle cx="387.7" cy="1917.2" r="11.28" fill="#fff" />
<circle cx="404.03" cy="1904.13" r="14.1" fill="#fff" />
<circle cx="424.07" cy="1905.62" r="12.17" fill="#fff" />
<circle cx="441.89" cy="1915.71" r="14.85" fill="#fff" />
<rect x="387.7" y="1909.77" width="54.19" height="20.78" rx="0.0" fill="#fff" />
<rect x="405.96" y="1919.87" width="14.85" height="17.37" rx="0.0" fill="#383837" />
<polygon points="399.28,1936.5 427.34,1936.5 413.38,1950.45" fill="#383837" />
<path d="M501.27,1914.97 L527.99,1932.79" fill="none" stroke="#CC4015" stroke-width="9.2" />
<path d="M527.99,1932.04 L560.65,1954.31" fill="none" stroke="#E55A26" stroke-width="14.85" stroke-linecap="round"/>
<circle cx="468.61" cy="1894.19" r="37.86" fill="#F6F6F2" fill-opacity="0.2" stroke="#383837" stroke-width="4.45"/>
<defs><clipPath id="lensc"><circle cx="468.61" cy="1894.19" r="35.63"/></clipPath><clipPath id="lensr"><rect x="478.56" y="1847.42" width="59.38" height="103.92"/></clipPath></defs>
<g clip-path="url(#lensc)"><g clip-path="url(#lensr)"><rect x="478.26" y="1854.85" width="34.89" height="89.07" rx="0.0" fill="#F2F2EF" /><circle cx="458.1" cy="1747" r="152.3" fill="#FBFBF9" stroke="#F2A98C" stroke-width="6.6"/></g></g>
<rect x="899.5" y="1859.19" width="224.44" height="88.94" rx="5.4" fill="#E55A26" />
<polygon points="929.01,1893.27 931.82,1900.62 939.68,1901.02 933.56,1905.97 935.61,1913.57 929.01,1909.27 922.41,1913.57 924.47,1905.97 918.34,1901.02 926.2,1900.62" fill="#fff" />
<polygon points="954.36,1893.27 957.17,1900.62 965.04,1901.02 958.91,1905.97 960.96,1913.57 954.36,1909.27 947.77,1913.57 949.82,1905.97 943.69,1901.02 951.55,1900.62" fill="#fff" />
<polygon points="979.72,1893.27 982.53,1900.62 990.39,1901.02 984.26,1905.97 986.31,1913.57 979.72,1909.27 973.12,1913.57 975.17,1905.97 969.04,1901.02 976.91,1900.62" fill="#fff" />
<polygon points="1005.07,1893.27 1007.88,1900.62 1015.74,1901.02 1009.62,1905.97 1011.67,1913.57 1005.07,1909.27 998.47,1913.57 1000.52,1905.97 994.4,1901.02 1002.26,1900.62" fill="#fff" />
<polygon points="1030.42,1893.27 1033.23,1900.62 1041.1,1901.02 1034.97,1905.97 1037.02,1913.57 1030.42,1909.27 1023.83,1913.57 1025.88,1905.97 1019.75,1901.02 1027.61,1900.62" fill="#fff" />
<circle cx="1080.3" cy="1904.9" r="30.76" fill="#fff" />
<defs><clipPath id="avc"><circle cx="1080.3" cy="1904.9" r="30.34"/></clipPath></defs>
<circle cx="1080.3" cy="1898.67" r="11.43" fill="#383837" />
<g clip-path="url(#avc)"><ellipse cx="1080.3" cy="1936.08" rx="23.28" ry="22.44" fill="#383837"/></g>
<defs><filter id="sh" x="-20%" y="-20%" width="140%" height="140%"><feGaussianBlur stdDeviation="5"/></filter></defs>
<rect x="48" y="266" width="288" height="257.5" rx="31" fill="#4071B9"/>
<rect x="61" y="278" width="262" height="234.5" rx="26" fill="#1d3a6e" opacity="0.75" filter="url(#sh)"/>
<rect x="64" y="280.5" width="256" height="228.5" rx="23" fill="#f6f6f7"/>
<rect x="46" y="895" width="290" height="257.5" rx="31" fill="#EC8357"/>
<rect x="59" y="907" width="264" height="234.5" rx="26" fill="#7a3518" opacity="0.75" filter="url(#sh)"/>
<rect x="62" y="909.5" width="258" height="228.5" rx="23" fill="#f6f6f7"/>
<text x="110.7" y="431.5" font-size="32.8" fill="#2356A7" stroke="#2356A7" stroke-width="0.6" textLength="163.2" lengthAdjust="spacingAndGlyphs">DELIVERY</text>
<text x="112.6" y="472.4" font-size="32.8" fill="#2356A7" stroke="#2356A7" stroke-width="0.6" textLength="158.8" lengthAdjust="spacingAndGlyphs">PLANNER</text>
<text x="160.5" y="1060.5" font-size="32.8" fill="#E55A26" stroke="#E55A26" stroke-width="0.6" textLength="62.1" lengthAdjust="spacingAndGlyphs">ETA</text>
<text x="110.8" y="1101.2" font-size="32.8" fill="#E55A26" stroke="#E55A26" stroke-width="0.6" textLength="160.5" lengthAdjust="spacingAndGlyphs">MONITOR</text>
<path d="M164.3,340.3 V380.4 A27.60,9.30 0 0 0 219.5,380.4 V340.3Z" fill="#2356A7"/>
<path d="M164.3,350.3 A27.60,9.30 0 0 0 219.5,350.3" fill="none" stroke="#4071B9" stroke-width="1.30"/>
<path d="M164.3,360.8 A27.60,9.30 0 0 0 219.5,360.8" fill="none" stroke="#4071B9" stroke-width="1.30"/>
<path d="M164.3,371.2 A27.60,9.30 0 0 0 219.5,371.2" fill="none" stroke="#4071B9" stroke-width="1.30"/>
<ellipse cx="191.9" cy="340.3" rx="27.60" ry="9.30" fill="#4071B9"/>
<path d="M191.9,339.7 L202.9,331.5 L211.9,334.5 L193.9,340.5Z" fill="#2356A7" opacity="0.55"/>
<path d="M191.9,339.9 C188.9,334.0 177.0,321.0 177.0,310.9 A14.90,14.90 0 0 1 206.8,310.9 C206.8,321.0 194.9,334.0 191.9,339.9Z" fill="#66737D"/>
<circle cx="191.9" cy="311.2" r="8.70" fill="#F6F6F7"/>
<path d="M191.9,306.3 V311.6 H196.5" fill="none" stroke="#66737D" stroke-width="1.50"/>
<path d="M161.19,969.29 V1009.11 A27.41,9.23 0 0 0 216.01,1009.11 V969.29Z" fill="#E55A26"/>
<path d="M161.19,979.22 A27.41,9.23 0 0 0 216.01,979.22" fill="none" stroke="#EC8357" stroke-width="1.29"/>
<path d="M161.19,989.65 A27.41,9.23 0 0 0 216.01,989.65" fill="none" stroke="#EC8357" stroke-width="1.29"/>
<path d="M161.19,999.97 A27.41,9.23 0 0 0 216.01,999.97" fill="none" stroke="#EC8357" stroke-width="1.29"/>
<ellipse cx="188.6" cy="969.29" rx="27.41" ry="9.23" fill="#EC8357"/>
<path d="M188.6,968.69 L199.52,960.55 L208.46,963.53 L190.59,969.49Z" fill="#E55A26" opacity="0.55"/>
<path d="M188.6,968.89 C185.62,963.03 173.8,950.12 173.8,940.1 A14.80,14.80 0 0 1 203.4,940.1 C203.4,950.12 191.58,963.03 188.6,968.89Z" fill="#66737D"/>
<circle cx="188.6" cy="940.39" r="8.64" fill="#F6F6F7"/>
<path d="M188.6,935.53 V940.79 H193.17" fill="none" stroke="#66737D" stroke-width="1.49"/>
</svg>
</body></html>
